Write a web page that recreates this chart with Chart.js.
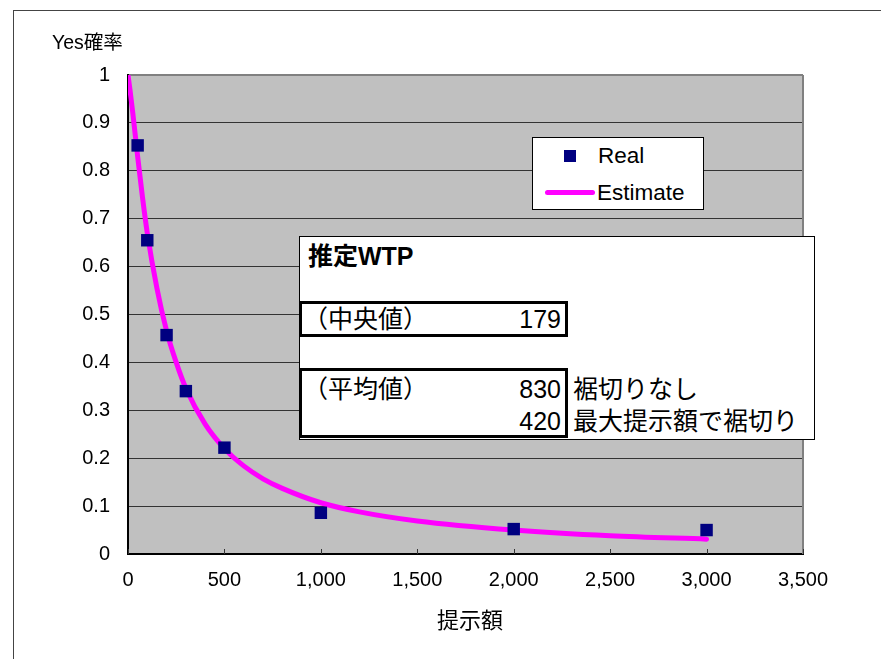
<!DOCTYPE html>
<html>
<head>
<meta charset="utf-8">
<script src="https://cdn.jsdelivr.net/npm/chart.js@4"></script>
<style>
    body { margin: 0; background: #fff; }
    #wrap { position: relative; width: 881px; height: 659px; overflow: hidden;
            font-family: "Liberation Sans", "Noto Sans CJK JP", sans-serif; color: #000; }
    #frame { position: absolute; left: 13px; top: 10px; width: 900px; height: 700px;
             border-left: 1px solid #444; border-top: 1px solid #444; }
    canvas { position: absolute; left: 0; top: 0; }
    .txt { position: absolute; white-space: nowrap; height: 30px; line-height: 30px; }
    #legend { position: absolute; left: 532px; top: 137px; width: 170px; height: 71px;
              background: #fff; border: 1px solid #000; font-size: 22.5px; }
    #wtp { position: absolute; left: 299px; top: 236px; width: 514px; height: 202px;
           background: #fff; border: 1px solid #000; }
    .cell { position: absolute; left: 299px; width: 263px; border: 3px solid #000; }
</style>
</head>
<body>
<div id="wrap">
    <div id="frame"></div>
    <canvas id="wtpChart" width="881" height="659"></canvas>

    <div class="txt" style="left:52px; top:27px; font-size:19.5px;">Yes確率</div>
    <div class="txt" style="left:437px; top:606px; font-size:22px;">提示額</div>

    <div id="legend">
        <div style="position:absolute; left:31px; top:12px; width:12px; height:12px; background:#000080;"></div>
        <div class="txt" style="left:65px; top:3px;">Real</div>
        <div style="position:absolute; left:12px; top:52px; width:50px; height:5px; border-radius:3px; background:#ff00ff;"></div>
        <div class="txt" style="left:64px; top:40px;">Estimate</div>
    </div>

    <div id="wtp"></div>
    <div class="cell" style="top:301px; height:30px;"></div>
    <div class="cell" style="top:368px; height:64px;"></div>
    <div class="txt" style="left:308px; top:241px; font-size:25px; font-weight:bold;">推定WTP</div>
    <div class="txt" style="left:303px; top:304px; font-size:25px;">（中央値）</div>
    <div class="txt" style="left:450px; top:304px; width:111px; text-align:right; font-size:25px;">179</div>
    <div class="txt" style="left:303px; top:374px; font-size:25px;">（平均値）</div>
    <div class="txt" style="left:450px; top:374px; width:111px; text-align:right; font-size:25px;">830</div>
    <div class="txt" style="left:450px; top:406px; width:111px; text-align:right; font-size:25px;">420</div>
    <div class="txt" style="left:573px; top:374px; font-size:25px;">裾切りなし</div>
    <div class="txt" style="left:573px; top:406px; font-size:25px;">最大提示額で裾切り</div>
</div>

<script>
// Observed yes-rates at each offered amount
var bidAmounts = [50, 100, 200, 300, 500, 1000, 2000, 3000];
var yesRates = [0.853, 0.655, 0.457, 0.340, 0.222, 0.086, 0.052, 0.050];

// Estimated curve
var estAmounts = [0, 10, 25, 50, 75, 100, 150, 200, 250, 300, 400, 500, 600, 700, 800, 1000, 1200, 1500, 2000, 2500, 3000];
var estRates = [1.0, 0.97, 0.92, 0.83, 0.745, 0.67, 0.555, 0.466, 0.40, 0.346, 0.271, 0.22, 0.184, 0.157, 0.137, 0.107, 0.088, 0.069, 0.05, 0.038, 0.031];

// Axis ticks
var xTicks = [0, 500, 1000, 1500, 2000, 2500, 3000, 3500];
var yTicks = [0, 0.1, 0.2, 0.3, 0.4, 0.5, 0.6, 0.7, 0.8, 0.9, 1];

function toPoints(xs, ys) {
    return xs.map(function (x, i) {
        return { x: x, y: ys[i] };
    });
}

// Gray plot area, right border and small inside x tick marks
var plotDecor = {
    id: 'plotDecor',
    beforeDraw: function (chart) {
        var a = chart.chartArea, ctx = chart.ctx;
        ctx.save();
        ctx.fillStyle = '#c0c0c0';
        ctx.fillRect(a.left, a.top, a.right - a.left, a.bottom - a.top);
        ctx.restore();
    },
    afterDatasetsDraw: function (chart) {
        var a = chart.chartArea, ctx = chart.ctx, xs = chart.scales.x;
        ctx.save();
        ctx.strokeStyle = '#808080';
        ctx.lineWidth = 2;
        ctx.beginPath();
        ctx.moveTo(a.right, a.top);
        ctx.lineTo(a.right, a.bottom);
        ctx.stroke();
        ctx.strokeStyle = '#333';
        ctx.lineWidth = 1;
        xTicks.forEach(function (v) {
            var px = Math.round(xs.getPixelForValue(v)) + 0.5;
            ctx.beginPath();
            ctx.moveTo(px, a.bottom);
            ctx.lineTo(px, a.bottom - 5);
            ctx.stroke();
        });
        ctx.restore();
    }
};

var ctx = document.getElementById('wtpChart').getContext('2d');
var chart = new Chart(ctx, {
    type: 'scatter',
    data: {
        datasets: [{
            label: 'Real',
            data: toPoints(bidAmounts, yesRates),
            pointStyle: 'rect',
            pointRadius: 8.8,
            pointBorderWidth: 0,
            backgroundColor: '#000080',
            borderColor: '#000080'
        }, {
            label: 'Estimate',
            data: toPoints(estAmounts, estRates),
            showLine: true,
            pointRadius: 0,
            borderColor: '#ff00ff',
            borderWidth: 5,
            borderCapStyle: 'round',
            cubicInterpolationMode: 'monotone'
        }]
    },
    options: {
        responsive: false,
        animation: false,
        devicePixelRatio: 1,
        layout: { padding: { left: 0, top: 75, right: 78, bottom: 0 } },
        plugins: {
            legend: { display: false },
            tooltip: { enabled: false }
        },
        scales: {
            x: {
                type: 'linear',
                min: 0,
                max: 3500,
                afterFit: function (s) { s.height = 105; },
                afterBuildTicks: function (s) {
                    s.ticks = xTicks.map(function (v) { return { value: v }; });
                },
                ticks: {
                    padding: 14,
                    color: '#000',
                    font: { family: 'Liberation Sans', size: 20 },
                    callback: function (v) { return v.toLocaleString('en-US'); }
                },
                grid: { drawOnChartArea: false, drawTicks: false },
                border: { color: '#000', width: 2 }
            },
            y: {
                min: 0,
                max: 1,
                afterFit: function (s) { s.width = 128; },
                afterBuildTicks: function (s) {
                    s.ticks = yTicks.map(function (v) { return { value: v }; });
                },
                ticks: {
                    padding: 18,
                    color: '#000',
                    font: { family: 'Liberation Sans', size: 20 },
                    callback: function (v) { return String(Math.round(v * 10) / 10); }
                },
                grid: {
                    drawTicks: false,
                    color: function (c) { return c.tick && c.tick.value === 1 ? '#808080' : '#333'; },
                    lineWidth: function (c) { return c.tick && c.tick.value === 1 ? 2 : 1; }
                },
                border: { color: '#000', width: 2 }
            }
        }
    },
    plugins: [plotDecor]
});
</script>
</body>
</html>
